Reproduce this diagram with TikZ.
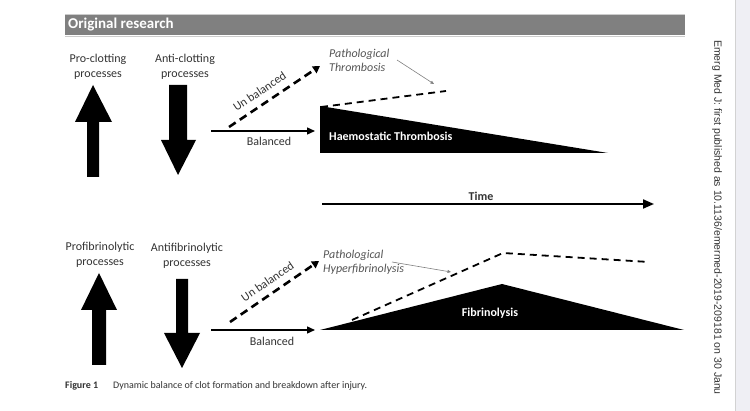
\documentclass[tikz,border=0pt]{standalone}
\usepackage{fontspec}
\setmainfont{Carlito}
\newfontfamily\arialf{Liberation Sans}
\usetikzlibrary{arrows.meta}
\definecolor{txt}{HTML}{333333}
\definecolor{pathc}{HTML}{555555}
\definecolor{barc}{HTML}{808080}
\definecolor{stripc}{HTML}{EFEFF4}
\begin{document}
\begin{tikzpicture}[x=1pt,y=-1pt,
  lbl/.style={text=txt, font=\fontsize{12}{14.5}\selectfont, align=center, inner sep=0pt},
  pathlbl/.style={text=pathc, font=\fontsize{12}{14}\selectfont\itshape, align=left, inner sep=0pt, anchor=west},
  inlbl/.style={text=white, font=\fontsize{12}{14}\selectfont\bfseries, inner sep=0pt},
  bal/.style={line width=1.4pt, -{Triangle[length=8pt,width=7pt]}},
  unbal/.style={line width=2.6pt, dash pattern=on 8pt off 5pt, -{Triangle[length=7pt,width=8pt]}},
  pdash/.style={line width=1.8pt, dash pattern=on 7pt off 5pt},
  callout/.style={draw=gray, line width=0.6pt, -{Triangle[length=3.5pt,width=3pt]}},
  ]
\useasboundingbox (0,0) rectangle (750,411);
\clip (0,0) rectangle (750,411);
\fill[white] (0,0) rectangle (750,411);
% right strip
\fill[stripc] (735,0) rectangle (750,411);
\draw[gray!35, line width=0.5pt] (735,0) -- (735,411);
\node[rotate=-90, anchor=west, inner sep=0pt, text=txt, font=\arialf\fontsize{10.5}{12}\selectfont] (side) at (717,40) {Emerg Med J: first published as 10.1136/emermed-2019-209181 on 30 Janu};
% header
\fill[barc] (65,15) rectangle (685,35);
\draw[gray!40, line width=0.5pt] (65,14) -- (685,14) (65,36) -- (685,36);
\node[anchor=west, inner sep=0pt, text=white, font=\fontsize{15}{16}\selectfont\bfseries] (hdr) at (68,25) {Original research};

% ===== top =====
\node[lbl] (pro) at (98,67) {Pro-clotting\\processes};
\node[lbl] (anti) at (185,67) {Anti-clotting\\processes};
\fill (93,85) -- (112,122) -- (99,122) -- (99,177) -- (87,177) -- (87,122) -- (75,122) -- cycle;
\fill (169,85) -- (187,85) -- (187,140) -- (196,140) -- (178,175) -- (161,140) -- (169,140) -- cycle;
\coordinate (b1s) at (211,131);
\coordinate (b1e) at (315,131);
\draw[bal] (b1s) -- (b1e);
\node[lbl] (bal1) at (269,141) {Balanced};
\coordinate (u1s) at (229,127);
\coordinate (u1e) at (320,66);
\draw[unbal] (u1s) -- (u1e);
\node[lbl, rotate=34] (ub1) at (259.5,91.5) {Un balanced};
\node[pathlbl] (pt) at (329,60) {Pathological\\Thrombosis};
\coordinate (c1s) at (397,60);
\coordinate (c1e) at (434,84);
\draw[callout] (c1s) -- (c1e);
\coordinate (d1s) at (321,107);
\coordinate (d1e) at (446,91);
\draw[pdash] (d1s) -- (d1e);
\fill (320,106) -- (608,153) -- (320,153) -- cycle;
\node[inlbl, anchor=west] (ht) at (329,136) {Haemostatic Thrombosis};

% time
\coordinate (t1) at (322,204);
\coordinate (t2) at (654,204);
\draw[line width=2pt, -{Triangle[length=11pt,width=9pt]}] (t1) -- (t2);
\node[lbl, font=\fontsize{12}{14}\selectfont\bfseries] (time) at (481,196) {Time};

% ===== bottom =====
\node[lbl] (prof) at (100,255) {Profibrinolytic\\processes};
\node[lbl] (antif) at (187,256) {Antifibrinolytic\\processes};
\fill (99,273) -- (117,310) -- (106,310) -- (106,365) -- (92,365) -- (92,310) -- (81,310) -- cycle;
\fill (176,279) -- (188,279) -- (188,333) -- (200,333) -- (182,368) -- (164,333) -- (176,333) -- cycle;
\coordinate (b2s) at (211,330);
\coordinate (b2e) at (315,330);
\draw[bal] (b2s) -- (b2e);
\node[lbl] (bal2) at (272,341) {Balanced};
\coordinate (u2s) at (230,322);
\coordinate (u2e) at (319,261);
\draw[unbal] (u2s) -- (u2e);
\node[lbl, rotate=34.5] (ub2) at (267.5,281.5) {Un balanced};
\node[pathlbl] (ph) at (323,262) {Pathological\\Hyperfibrinolysis};
\coordinate (c2s) at (392,262);
\coordinate (c2e) at (451,272);
\draw[callout] (c2s) -- (c2e);
\fill (320,330) -- (502,284) -- (684,330) -- cycle;
\node[inlbl] (fib) at (490,313) {Fibrinolysis};
\coordinate (d2a) at (352,320);
\coordinate (d2b) at (503,253);
\coordinate (d2c) at (649,262);
\draw[pdash] (d2a) -- (d2b) -- (d2c);

% caption
\node[anchor=west, inner sep=0pt, text=txt, font=\fontsize{10}{12}\selectfont\bfseries] (figno) at (65,386) {Figure 1};
\node[anchor=west, inner sep=0pt, text=txt, font=\fontsize{10}{12}\selectfont] (cap) at (113,386) {Dynamic balance of clot formation and breakdown after injury.};
\end{tikzpicture}
\end{document}
